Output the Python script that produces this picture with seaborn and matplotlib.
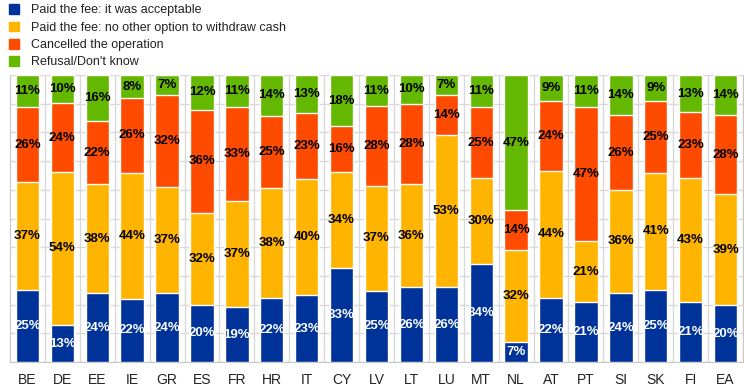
import numpy as np
import pandas as pd
import matplotlib
matplotlib.use("Agg")
import matplotlib.pyplot as plt
import seaborn as sns
from matplotlib.patches import Patch

# Datos
paises = ['BE', 'DE', 'EE', 'IE', 'GR', 'ES', 'FR', 'HR', 'IT', 'CY', 'LV',
          'LT', 'LU', 'MT', 'NL', 'AT', 'PT', 'SI', 'SK', 'FI', 'EA']
aceptable = [25, 13, 24, 22, 24, 20, 19, 22, 23, 33, 25, 26, 26, 34, 7, 22, 21, 24, 25, 21, 20]
sin_opcion = [37, 54, 38, 44, 37, 32, 37, 38, 40, 34, 37, 36, 53, 30, 32, 44, 21, 36, 41, 43, 39]
cancelado = [26, 24, 22, 26, 32, 36, 33, 25, 23, 16, 28, 28, 14, 25, 14, 24, 47, 26, 25, 23, 28]
rechazo = [11, 10, 16, 8, 7, 12, 11, 14, 13, 18, 11, 10, 7, 11, 47, 9, 11, 14, 9, 13, 14]

series = ['Paid the fee: it was acceptable',
          'Paid the fee: no other option to withdraw cash',
          'Cancelled the operation',
          'Refusal/Don\'t know']
colores = ['#003399', '#FFB400', '#FF4B00', '#65B800']
color_texto = ['white', 'black', 'black', 'black']

df = pd.DataFrame({'pais': paises, series[0]: aceptable, series[1]: sin_opcion,
                   series[2]: cancelado, series[3]: rechazo})
valores = df[series]
# las barras llegan siempre al 100%
alturas = valores.div(valores.sum(axis=1), axis=0) * 100
acumulado = alturas.cumsum(axis=1)

sns.set_style("white")
plt.rcParams['font.family'] = ['Liberation Sans', 'DejaVu Sans']

fig = plt.figure(figsize=(7.44, 3.89), dpi=100)
ax = fig.add_axes([0.0134, 0.0694, 0.9853, 0.7376])

# Apilar dibujando los acumulados de arriba hacia abajo
for i in range(len(series) - 1, -1, -1):
    sns.barplot(x=df['pais'], y=acumulado[series[i]], color=colores[i],
                width=0.67, saturation=1, ax=ax, zorder=3)

# Etiquetas dentro de cada segmento
for j in range(len(paises)):
    base = 0
    for i, s in enumerate(series):
        h = alturas[s].iloc[j]
        ax.text(j, base + h / 2, f"{valores[s].iloc[j]}%", ha='center', va='center',
                fontsize=9.5, fontweight='bold', color=color_texto[i], zorder=4)
        base += h

ax.set_ylim(0, 100)
ax.set_xlim(-0.5, len(paises) - 0.5)
ax.set_yticks(np.arange(0, 101, 10))
ax.set_yticklabels([])
ax.tick_params(axis='y', length=0)
ax.set_xticks(np.arange(len(paises)) + 0.5, minor=True)
ax.tick_params(axis='x', which='both', length=0, labelsize=10, pad=8, colors='#222222')
ax.grid(axis='y', which='major', color='#d9d9d9', linewidth=1, zorder=0)
ax.grid(axis='x', which='minor', color='#d9d9d9', linewidth=1, zorder=0)
ax.set_xlabel('')
ax.set_ylabel('')
for lado in ['left', 'bottom', 'right']:
    ax.spines[lado].set_color('#c8c8c8')
ax.spines['top'].set_visible(False)

handles = [Patch(facecolor=c, edgecolor=c) for c in colores]
fig.legend(handles, series, loc='upper left', bbox_to_anchor=(0.005, 1.002),
           frameon=False, fontsize=9, handlelength=0.8, handleheight=0.8,
           handletextpad=1.0, labelspacing=0.42, borderaxespad=0,
           labelcolor='#222222')

fig.savefig('out.png', dpi=100)
